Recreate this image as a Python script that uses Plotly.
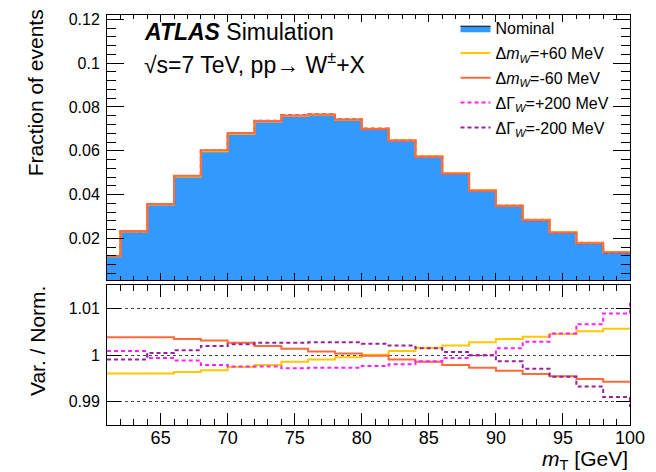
import plotly.graph_objects as go

# ---------------- data ----------------
bin_edges = [61, 62, 64, 66, 68, 70, 72, 74, 76, 78, 80, 82, 84, 86, 88, 90, 92, 94, 96, 98, 100]
overflow_edge = 102
nominal = [0.0119, 0.0232, 0.0356, 0.0484, 0.0600, 0.0679, 0.0735, 0.0760, 0.0765, 0.0742,
           0.0700, 0.0647, 0.0574, 0.0497, 0.0419, 0.0349, 0.0284, 0.0228, 0.0179, 0.0137]
ratio_mw_up = [0.9961, 0.9961, 0.9961, 0.9964, 0.9968, 0.9975, 0.9979, 0.9986, 0.9991, 0.9996,
               1.0001, 1.0009, 1.0016, 1.0021, 1.0028, 1.0035, 1.0040, 1.0046, 1.0052, 1.0057]
ratio_mw_dn = [1.0039, 1.0039, 1.0039, 1.0035, 1.0032, 1.0027, 1.0020, 1.0014, 1.0008, 1.0004,
               0.9999, 0.9991, 0.9986, 0.9979, 0.9973, 0.9967, 0.9960, 0.9955, 0.9949, 0.9943]
ratio_gw_up = [1.0009, 1.0009, 0.9994, 0.9989, 0.9979, 0.9976, 0.9976, 0.9972, 0.9973, 0.9973,
               0.9977, 0.9981, 0.9987, 0.9994, 1.0000, 1.0015, 1.0029, 1.0047, 1.0067, 1.0090]
ratio_gw_dn = [0.9991, 0.9991, 1.0005, 1.0011, 1.0020, 1.0024, 1.0027, 1.0027, 1.0028, 1.0028,
               1.0025, 1.0021, 1.0015, 1.0007, 1.0000, 0.9987, 0.9971, 0.9954, 0.9933, 0.9910]
overflow_ratio = {"mw_up": 1.0058, "mw_dn": 0.9943, "gw_up": 1.0111, "gw_dn": 0.9891}

labels = {
    "nom": "Nominal",
    "mw_up": "Δ<i>m</i><sub><i>W</i></sub>=+60 MeV",
    "mw_dn": "Δ<i>m</i><sub><i>W</i></sub>=-60 MeV",
    "gw_up": "ΔΓ<sub><i>W</i></sub>=+200 MeV",
    "gw_dn": "ΔΓ<sub><i>W</i></sub>=-200 MeV",
}
ratios = {"mw_up": ratio_mw_up, "mw_dn": ratio_mw_dn, "gw_up": ratio_gw_up, "gw_dn": ratio_gw_dn}

# ---------------- styles ----------------
FONT = "Liberation Sans, Arial, Helvetica, sans-serif"
BLUE = "#3399FF"
styles = {
    "mw_up": dict(color="#FFC800", width=2, dash="solid"),
    "mw_dn": dict(color="#FF6A3D", width=2, dash="solid"),
    "gw_up": dict(color="#FF22FF", width=2, dash="4px,3px"),
    "gw_dn": dict(color="#992299", width=2, dash="4px,3px"),
}
legend_rank = {"nom": 1, "mw_up": 2, "mw_dn": 3, "gw_up": 4, "gw_dn": 5}

def step_y(vals):
    return list(vals) + [vals[-1]]

fig = go.Figure()

# nominal filled histogram (top)
fig.add_trace(go.Scatter(
    x=bin_edges, y=step_y(nominal), mode="lines", line=dict(shape="hv", color="black", width=1),
    fill="tozeroy", fillcolor=BLUE, name=labels["nom"], legendgroup="nom",
    legendrank=legend_rank["nom"], xaxis="x", yaxis="y", hoverinfo="skip"))

# variations in top panel (dashed first, solid on top)
for key in ["gw_up", "gw_dn", "mw_up", "mw_dn"]:
    var = [n * r for n, r in zip(nominal, ratios[key])]
    fig.add_trace(go.Scatter(
        x=bin_edges, y=step_y(var), mode="lines", line=dict(shape="hv", **styles[key]),
        name=labels[key], legendgroup=key, legendrank=legend_rank[key],
        xaxis="x", yaxis="y", hoverinfo="skip"))

# ratio panel (solid first, dashed on top)
for key in ["mw_up", "mw_dn", "gw_up", "gw_dn"]:
    r = ratios[key]
    fig.add_trace(go.Scatter(
        x=bin_edges + [overflow_edge], y=list(r) + [overflow_ratio[key], overflow_ratio[key]],
        mode="lines", line=dict(shape="hv", **styles[key]), showlegend=False,
        xaxis="x2", yaxis="y2", hoverinfo="skip"))

axis_common = dict(showline=True, linecolor="black", linewidth=1, mirror="allticks",
                   ticks="inside", tickcolor="black", tickwidth=1, zeroline=False,
                   showgrid=False)

top_bottom = 0.3527
bot_top = 0.3423

fig.update_layout(
    width=656, height=472,
    margin=dict(l=107, r=21, t=11, b=47),
    paper_bgcolor="white", plot_bgcolor="white",
    font=dict(family=FONT, color="black"),
    showlegend=True,
    xaxis=dict(domain=[0, 1], anchor="y", range=[61, 100], tick0=0, dtick=5, ticklen=7,
               showticklabels=False, matches="x2",
               minor=dict(dtick=1, ticklen=4, ticks="inside", tickcolor="black"),
               **axis_common),
    yaxis=dict(domain=[top_bottom, 1], anchor="x", range=[0.0008, 0.122], tick0=0, dtick=0.02,
               ticklen=17, tickfont=dict(size=16, family=FONT), ticklabelstandoff=3,
               minor=dict(dtick=0.004, ticklen=9, ticks="inside", tickcolor="black"),
               **axis_common),
    xaxis2=dict(domain=[0, 1], anchor="y2", range=[61, 100], tick0=0, dtick=5, ticklen=12,
                tickfont=dict(size=18, family=FONT), ticklabelstandoff=-4,
                minor=dict(dtick=1, ticklen=6, ticks="inside", tickcolor="black"),
                **axis_common),
    yaxis2=dict(domain=[0, bot_top], anchor="x2", range=[0.985, 1.0152], tick0=1, dtick=0.01,
                ticklen=14, tickfont=dict(size=16, family=FONT), ticklabelstandoff=3,
                showline=True, linecolor="black", linewidth=1, mirror="allticks",
                ticks="inside", tickcolor="black", tickwidth=1, zeroline=False,
                showgrid=True, gridcolor="#444444", griddash="dot", gridwidth=1),
    legend=dict(x=0.6664, y=1.009, xanchor="left", yanchor="top", bgcolor="rgba(0,0,0,0)",
                font=dict(size=16, family=FONT), itemwidth=30, tracegroupgap=1,
                traceorder="grouped"),
)

annotations = [
    dict(text="<b><i>ATLAS</i></b> Simulation", x=0.0663, y=0.959, xref="paper", yref="paper",
         xanchor="left", yanchor="middle", showarrow=False, font=dict(size=23, family=FONT)),
    dict(text="√s=7 TeV, pp→ W<sup>±</sup>+X", x=0.0663, y=0.884, xref="paper", yref="paper",
         xanchor="left", yanchor="middle", showarrow=False, font=dict(size=23, family=FONT)),
    dict(text="Fraction of events", x=-0.1364, y=1.0193, xref="paper", yref="paper",
         xanchor="center", yanchor="top", textangle=-90, showarrow=False,
         font=dict(size=21, family=FONT)),
    dict(text="Var. / Norm.", x=-0.1326, y=0.343, xref="paper", yref="paper",
         xanchor="center", yanchor="top", textangle=-90, showarrow=False,
         font=dict(size=21, family=FONT)),
    dict(text="<i>m</i><sub>T</sub> [GeV]", x=1.0, y=-0.0845, xref="paper", yref="paper",
         xanchor="right", yanchor="middle", showarrow=False, font=dict(size=21, family=FONT)),
]
fig.update_layout(annotations=annotations)

fig.write_html("out.html", config={"displayModeBar": False},
               post_script="document.body.style.margin='0px';")
